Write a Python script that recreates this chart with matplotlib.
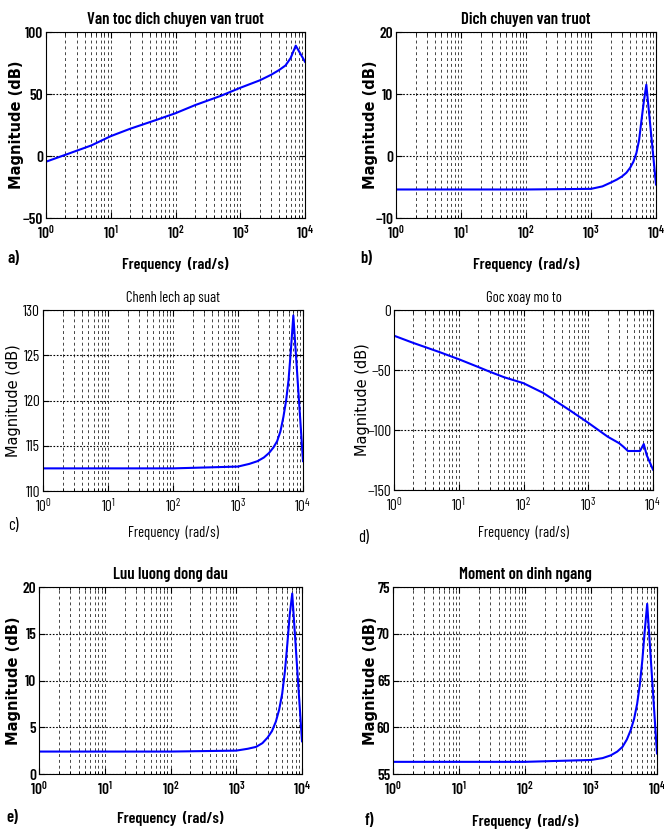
import matplotlib
matplotlib.use('Agg')
import matplotlib.pyplot as plt
from matplotlib.ticker import LogLocator, NullFormatter

narrow = ['Barlow Condensed', 'Roboto Condensed', 'DejaVu Sans']
plt.rcParams['font.family'] = narrow
plt.rcParams['mathtext.default'] = 'regular'

# du lieu doc tu hinh (rad/s, dB)
w_a = [1, 2, 5, 10, 20, 50, 100, 200, 500, 1000, 2000, 3000, 4000, 5000, 6000, 7200, 10000]
mag_a = [-4.6, 1.0, 8.5, 16.0, 22.0, 29.0, 34.5, 41.0, 48.5, 55.0, 61.0, 65.5, 69.4, 73.0, 79.0, 89.0, 76.0]

w_res = [1, 10, 100, 1000, 1500, 2000, 2500, 3000, 3500, 4000, 4500, 5000, 5500, 6000, 6500, 7100, 10000]
mag_b = [-5.4, -5.4, -5.4, -5.3, -4.9, -4.3, -3.8, -3.3, -2.7, -1.9, -0.9, 0.5, 2.6, 5.9, 8.8, 11.5, -4.6]
mag_c = [112.5, 112.5, 112.5, 112.7, 113.0, 113.3, 113.7, 114.2, 114.8, 115.5, 116.6, 118.2, 120.0, 122.3, 125.5, 129.4, 113.3]
mag_e = [2.4, 2.4, 2.4, 2.5, 2.7, 2.9, 3.3, 3.9, 4.6, 5.6, 6.9, 8.6, 11.0, 14.0, 17.0, 19.3, 3.5]
mag_f = [56.3, 56.3, 56.3, 56.5, 56.7, 57.0, 57.4, 57.9, 58.7, 59.7, 60.9, 62.5, 64.6, 67.2, 70.2, 73.2, 57.2]

w_d = [1, 2, 5, 10, 20, 30, 50, 100, 200, 500, 1000, 2000, 3000, 3500, 4100, 6300, 7200, 8000, 10000]
mag_d = [-21.4, -27.5, -35.0, -41.0, -47.5, -51.4, -56.0, -61.0, -69.0, -83.0, -94.0, -105.6, -111.0, -114.0, -117.5, -117.5, -111.7, -121.0, -133.0]

titles = ['Van toc dich chuyen van truot', 'Dich chuyen van truot', 'Chenh lech ap suat',
          'Goc xoay mo to', 'Luu luong dong dau', 'Moment on dinh ngang']
letters = ['a)', 'b)', 'c)', 'd)', 'e)', 'f)']
ylims = [(-50, 100), (-10, 20), (110, 130), (-150, 0), (0, 20), (55, 75)]
yticks = [[-50, 0, 50, 100], [-10, 0, 10, 20], [110, 115, 120, 125, 130],
          [-150, -100, -50, 0], [0, 5, 10, 15, 20], [55, 60, 65, 70, 75]]
bold = [True, True, False, False, True, True]

# vi tri truc theo pixel: trai, phai, tren, duoi
boxes = [(46, 305, 32, 218), (396, 656, 32, 218), (43, 303, 310, 491),
         (394, 653, 310, 490), (39, 302, 587, 774), (393, 657, 587, 774)]
ylab_cx = [17, 370, 14, 362, 14, 370]
xlab_y = [264, 264, 533, 533, 818, 821]
letter_pos = [(8, 258), (360, 258), (8, 525), (358, 537), (6, 817), (365, 820)]

series = [(w_a, mag_a), (w_res, mag_b), (w_res, mag_c), (w_d, mag_d), (w_res, mag_e), (w_res, mag_f)]

W, H = 664, 830
fig = plt.figure(figsize=(6.64, 8.30), dpi=100)

for i in range(6):
    l, r, t, b = boxes[i]
    ax = fig.add_axes([l / W, 1 - b / H, (r - l) / W, (b - t) / H])
    wt = 'semibold' if bold[i] else 'normal'
    w, m = series[i]
    ax.semilogx(w, m, color='#0000ff', lw=1.5)
    ax.set_xlim(1, 1e4)
    ax.set_ylim(*ylims[i])
    ax.set_yticks(yticks[i])
    ax.xaxis.set_major_locator(LogLocator(base=10, numticks=10))
    ax.xaxis.set_minor_locator(LogLocator(base=10, subs=range(2, 10), numticks=20))
    ax.xaxis.set_minor_formatter(NullFormatter())
    ax.grid(True, which='both', axis='x', color='#444444', ls=(0, (3, 3)), lw=0.7)
    ax.grid(True, which='major', axis='y', color='black', ls=(0, (1.5, 1.5)), lw=0.8)
    ax.tick_params(which='both', direction='in', top=True, right=True, labelsize=11)
    ax.tick_params(axis='y', pad=2)
    ax.tick_params(axis='x', pad=4)
    ax.tick_params(which='major', length=4)
    ax.tick_params(which='minor', length=2)
    for lab in ax.get_xticklabels() + ax.get_yticklabels():
        lab.set_fontweight(wt)
    for s in ax.spines.values():
        s.set_linewidth(0.8)
    ax.set_title(titles[i], fontsize=12 if bold[i] else 10.5, fontweight=wt, pad=6)
    # nhan truc y dung, chu rong hon
    ax.set_ylabel('Magnitude (dB)', fontsize=10.5,
                  fontweight='bold' if bold[i] else 'normal', family=['DejaVu Sans'], va='center')
    ax.yaxis.set_label_coords((ylab_cx[i] - l) / (r - l), 0.5)
    ax.set_xlabel('Frequency  (rad/s)', fontsize=11.5 if bold[i] else 10.5, fontweight=wt, va='center')
    ax.xaxis.set_label_coords(0.5, (b - xlab_y[i]) / (b - t))
    fig.text(letter_pos[i][0] / W, 1 - letter_pos[i][1] / H, letters[i], fontsize=12,
             fontweight=wt, ha='left', va='center')

fig.savefig('out.png', dpi=100)
